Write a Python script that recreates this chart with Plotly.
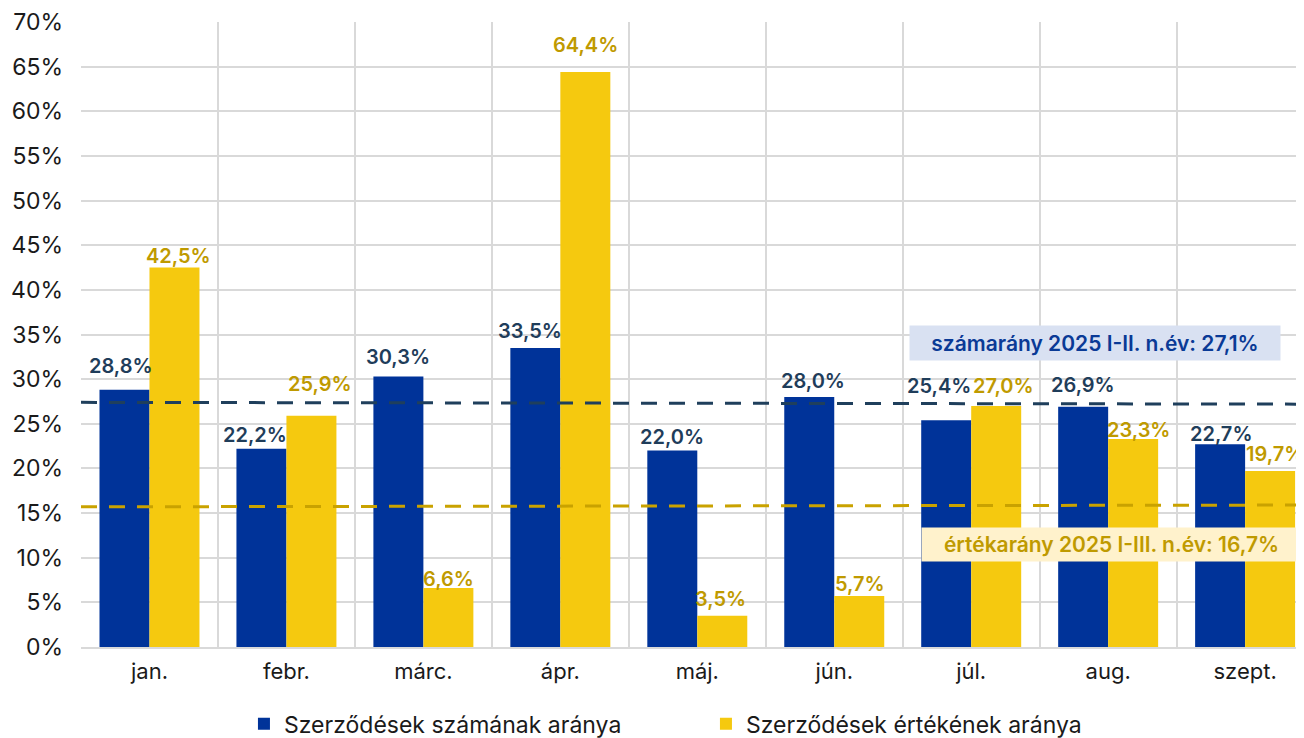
import plotly.graph_objects as go

months = ["jan.", "febr.", "márc.", "ápr.", "máj.", "jún.", "júl.", "aug.", "szept."]
count_share = [28.8, 22.2, 30.3, 33.5, 22.0, 28.0, 25.4, 26.9, 22.7]
value_share = [42.5, 25.9, 6.6, 64.4, 3.5, 5.7, 27.0, 23.3, 19.7]
count_avg_line = [27.4, 27.2]
value_avg_line = [15.7, 15.9]
line_x = [0, 1]
count_note = "számarány 2025 I-II. n.év: 27,1%"
value_note = "értékarány 2025 I-III. n.év: 16,7%"
y_ticks = list(range(0, 75, 5))
y_ticktext = [f"{v}%" for v in y_ticks]

# label placement styling (pixel nudges relative to the bar top / bar centre)
count_label_dx = [-3, -6, 0, -5, 0, 4, -7, 0, 1]
count_label_dy = [24, 14, 19, 17, 14, 16, 34, 22, 10]
value_label_dx = [4, 9, 0, 0, -2, 1, 7, 5, 5]
value_label_dy = [12, 32, 9, 27, 17, 12, 20, 9, 17]

BLUE = "#003399"
YELLOW = "#F5C90F"
DARK_LABEL = "#1F3D5A"
GOLD_LABEL = "#BF9A00"
GRID = "#D9D9D9"
FONT = "Inter"
HALF_BAR = 25

fig = go.Figure()
fig.add_trace(go.Bar(
    x=months, y=count_share, name="Szerződések számának aránya",
    marker=dict(color=BLUE, line=dict(width=0)),
))
fig.add_trace(go.Bar(
    x=months, y=value_share, name="Szerződések értékének aránya",
    marker=dict(color=YELLOW, line=dict(width=0)),
))
fig.add_trace(go.Scatter(
    x=line_x, y=count_avg_line, xaxis="x2", mode="lines", showlegend=False,
    line=dict(color="#1F3F5C", width=3, dash="16px,12px"), hoverinfo="skip",
))
fig.add_trace(go.Scatter(
    x=line_x, y=value_avg_line, xaxis="x2", mode="lines", showlegend=False,
    line=dict(color="#C9A200", width=3, dash="16px,12px"), hoverinfo="skip",
))


def fmt(v):
    return f"{v:.1f}%".replace(".", ",")


annotations = []
for m, v, dx, dy in zip(months, count_share, count_label_dx, count_label_dy):
    annotations.append(dict(
        x=m, y=v, xref="x", yref="y", text=fmt(v), showarrow=False,
        xanchor="center", yanchor="middle", xshift=-HALF_BAR + dx, yshift=dy,
        font=dict(family=FONT, size=20, color=DARK_LABEL, weight=600),
    ))
for m, v, dx, dy in zip(months, value_share, value_label_dx, value_label_dy):
    annotations.append(dict(
        x=m, y=v, xref="x", yref="y", text=fmt(v), showarrow=False,
        xanchor="center", yanchor="middle", xshift=HALF_BAR + dx, yshift=dy,
        font=dict(family=FONT, size=20, color=GOLD_LABEL, weight=600),
    ))
annotations += [
    dict(text=count_note, xref="paper", yref="y", x=0.829, y=34.0,
         xanchor="center", yanchor="middle",
         showarrow=False, bgcolor="#D9E1F2", width=368, height=32,
         font=dict(family=FONT, size=21, color="#0A3A96", weight=600)),
    dict(text=value_note, xref="paper", yref="y", x=0.843, y=11.5,
         xanchor="center", yanchor="middle",
         showarrow=False, bgcolor="#FFF2CC", width=377, height=31,
         font=dict(family=FONT, size=21, color=GOLD_LABEL, weight=600)),
]

fig.update_layout(
    width=1296, height=730,
    margin=dict(l=73, r=0, t=14, b=91, autoexpand=False),
    paper_bgcolor="white", plot_bgcolor="white",
    font=dict(family=FONT, size=22, color="#1A1A1A"),
    separators=", ",
    barmode="group", bargap=0.27, bargroupgap=0,
    xaxis=dict(
        type="category", range=[-0.5, 8.43], tickson="boundaries",
        showgrid=True, gridcolor=GRID, gridwidth=1.5,
        showline=True, linecolor=GRID, linewidth=2,
        ticks="", tickfont=dict(size=22, color="#1A1A1A"), automargin=False,
        ticklabelstandoff=4,
    ),
    xaxis2=dict(overlaying="x", range=[0, 1], visible=False, showgrid=False),
    yaxis=dict(
        range=[0, 70], tickmode="array", tickvals=y_ticks, ticktext=y_ticktext,
        showgrid=True, gridcolor=GRID, gridwidth=1.5, zeroline=False,
        ticks="", ticklen=0, tickfont=dict(size=23, color="#1A1A1A"),
        showline=False, automargin=False, ticklabelstandoff=17,
    ),
    legend=dict(
        orientation="h", x=0.511, xanchor="center", y=-0.123, yanchor="middle",
        font=dict(size=23, color="#1A1A1A"), entrywidth=417,
        itemsizing="constant", traceorder="normal",
    ),
    annotations=annotations,
)

fig.write_html("out.html")
